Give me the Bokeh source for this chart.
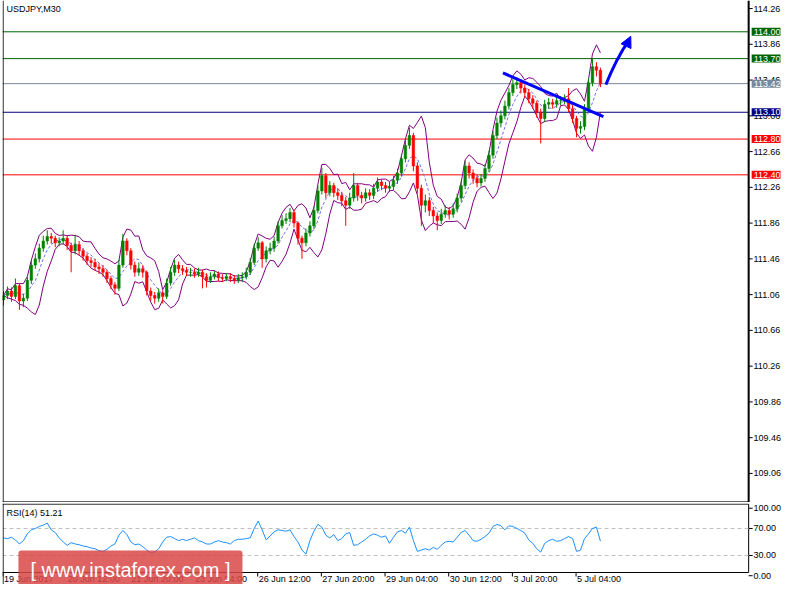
import numpy as np
import pandas as pd
from bokeh.plotting import figure
from bokeh.models import (ColumnDataSource, Range1d, FixedTicker, Span, Label,
                          Arrow, NormalHead, PrintfTickFormatter)
from bokeh.layouts import column
from bokeh.embed import file_html
from bokeh.resources import INLINE

# ---------------- data (USDJPY M30, one candle = 4 x M30 bars) ----------------
first_open = 111.00
close = [111.05,111.10,111.04,111.16,110.99,111.02,111.22,111.39,111.46,111.58,
         111.66,111.71,111.69,111.64,111.66,111.69,111.61,111.55,111.62,111.55,
         111.49,111.44,111.42,111.37,111.35,111.31,111.24,111.17,111.13,111.39,
         111.66,111.55,111.39,111.31,111.35,111.31,111.10,111.05,111.02,111.08,
         111.04,111.19,111.31,111.39,111.35,111.33,111.31,111.31,111.29,111.31,
         111.26,111.22,111.26,111.29,111.25,111.24,111.26,111.24,111.22,111.25,
         111.26,111.31,111.42,111.58,111.64,111.46,111.55,111.58,111.66,111.83,
         111.89,111.91,111.98,111.86,111.69,111.64,111.75,111.83,112.00,112.22,
         112.39,112.20,112.28,112.20,112.17,112.11,112.06,112.14,112.28,112.17,
         112.14,112.20,112.17,112.25,112.32,112.28,112.25,112.27,112.34,112.42,
         112.58,112.73,112.84,112.50,112.25,112.06,112.11,112.00,111.94,111.89,
         111.96,112.00,111.96,112.02,112.14,112.28,112.50,112.42,112.36,112.31,
         112.36,112.47,112.62,112.84,112.98,113.06,113.17,113.32,113.41,113.43,
         113.37,113.32,113.25,113.20,113.10,113.03,113.19,113.21,113.19,113.23,
         113.23,113.25,113.14,113.03,112.92,112.94,113.14,113.43,113.61,113.57,
         113.42]
high = [111.10,111.15,111.14,111.24,111.19,111.07,111.26,111.44,111.52,111.63,
        111.72,111.78,111.75,111.72,111.70,111.78,111.72,111.64,111.73,111.66,
        111.58,111.52,111.48,111.46,111.41,111.39,111.34,111.27,111.20,111.45,
        111.74,111.69,111.58,111.43,111.42,111.39,111.33,111.14,111.09,111.13,
        111.11,111.24,111.37,111.45,111.43,111.39,111.37,111.36,111.35,111.36,
        111.34,111.30,111.31,111.33,111.32,111.29,111.30,111.30,111.28,111.29,
        111.31,111.36,111.47,111.63,111.70,111.66,111.60,111.64,111.71,111.88,
        111.95,111.97,112.03,112.01,111.88,111.72,111.80,111.88,112.05,112.28,
        112.48,112.42,112.33,112.31,112.25,112.21,112.15,112.20,112.42,112.31,
        112.21,112.25,112.24,112.30,112.37,112.35,112.32,112.32,112.39,112.47,
        112.63,112.79,112.93,112.87,112.54,112.29,112.18,112.15,112.04,111.98,
        112.02,112.06,112.04,112.08,112.19,112.33,112.56,112.54,112.46,112.40,
        112.41,112.52,112.67,112.89,113.04,113.12,113.23,113.37,113.47,113.49,
        113.47,113.41,113.36,113.29,113.23,113.14,113.24,113.26,113.25,113.28,
        113.28,113.30,113.37,113.18,113.06,113.00,113.19,113.48,113.70,113.66,
        113.60]
low = [110.94,111.01,110.98,111.01,110.89,110.92,110.99,111.18,111.35,111.42,
       111.54,111.62,111.63,111.59,111.60,111.62,111.56,111.31,111.51,111.50,
       111.44,111.39,111.37,111.33,111.29,111.26,111.19,111.12,111.06,111.10,
       111.36,111.50,111.34,111.26,111.27,111.25,111.05,110.99,110.96,110.98,
       110.96,111.01,111.16,111.27,111.30,111.28,111.27,111.26,111.25,111.26,
       111.13,111.14,111.19,111.23,111.21,111.20,111.21,111.20,111.18,111.19,
       111.20,111.23,111.28,111.39,111.55,111.36,111.42,111.51,111.54,111.63,
       111.80,111.85,111.87,111.81,111.62,111.46,111.60,111.71,111.79,111.97,
       112.18,112.14,112.16,112.15,112.12,112.05,111.83,112.02,112.10,112.11,
       112.08,112.10,112.12,112.13,112.21,112.23,112.20,112.21,112.23,112.30,
       112.38,112.54,112.69,112.44,112.19,111.83,111.98,111.94,111.86,111.78,
       111.85,111.92,111.90,111.92,111.98,112.10,112.24,112.36,112.30,112.26,
       112.27,112.32,112.43,112.58,112.80,112.93,113.02,113.13,113.28,113.36,
       113.31,113.26,113.20,113.14,113.04,112.75,112.99,113.14,113.14,113.15,
       113.18,113.19,113.10,112.98,112.82,112.86,112.90,113.10,113.39,113.50,
       113.38]
rsi = [56,55,57,53,47,52,62,68,70,73,
       75,78,68,64,56,50,45,49,47,46,
       44,43,41,40,37,36,39,44,47,60,
       67,61,50,46,47,43,38,34,35,40,
       50,57,58,55,52,54,52,54,56,52,
       50,47,47,50,52,50,49,47,52,54,
       54,55,56,70,81,68,53,59,65,68,
       67,66,68,58,50,38,32,52,66,76,
       72,60,56,61,52,55,62,64,45,46,
       50,54,59,62,60,57,59,48,57,65,
       67,63,72,52,36,38,40,38,42,39,
       45,50,51,50,57,64,67,60,52,51,
       54,58,63,73,76,74,68,74,73,70,
       67,63,53,48,40,35,48,52,54,51,
       52,55,58,55,36,38,55,62,70,72,
       51.21]

levels = [114.00, 113.70, 113.42, 113.10, 112.80, 112.40]
level_colors = ["#006400", "#006400", "#778899", "#000080", "#ff0000", "#ff0000"]
price_ticks = [109.06, 109.46, 109.86, 110.26, 110.66, 111.06, 111.46, 111.86,
               112.26, 112.66, 113.06, 113.46, 113.86, 114.26]
rsi_ticks = [0, 30, 70, 100]
rsi_levels = [30, 70]
time_labels = ["19 Jun 2017", "20 Jun 12:00", "21 Jun 20:00", "23 Jun 04:00",
               "26 Jun 12:00", "27 Jun 20:00", "29 Jun 04:00", "30 Jun 12:00",
               "3 Jul 20:00", "5 Jul 04:00"]
time_tick_bars = [0, 64, 128, 192, 256, 320, 384, 448, 512, 576]
trend_bars = [502.5, 603.5]
trend_prices = [113.54, 113.05]
arrow_bars = [606, 611, 617, 623, 628, 631]
arrow_prices = [113.41, 113.54, 113.68, 113.80, 113.88, 113.95]
BARS_PER_CANDLE = 4
BB_PERIOD = 5
BB_DEV = 2

FONT = "Liberation Sans"
FS = "9px"

# ---------------- derived ----------------
n = len(close)
x = np.arange(n) * BARS_PER_CANDLE + 0.5
opn = [first_open] + close[:-1]
inc = [c >= o for o, c in zip(opn, close)]
col = ["#008000" if u else "#ff0000" for u in inc]
src = ColumnDataSource(dict(x=x, o=opn, c=close, h=high, l=low,
                            top=[max(a, b) for a, b in zip(opn, close)],
                            bot=[min(a, b) for a, b in zip(opn, close)],
                            col=col, rsi=rsi))
s = pd.Series(close)
ma = s.rolling(BB_PERIOD, min_periods=1).mean()
sd = s.rolling(BB_PERIOD, min_periods=1).std(ddof=0).fillna(0)
up = ma + BB_DEV * sd
dn = ma - BB_DEV * sd

# layout geometry (1 bar = 1 px)
X0, X1 = -0.5, 781.5          # frame covers the whole width incl. price scale
XA = 749.5                    # position of the price scale line
Y1 = 114.35
MAIN_H = 502
PX_PER_PRICE = 89.4
Y0 = Y1 - MAIN_H / PX_PER_PRICE
RSI_H = 82                    # 1px gap + 81px frame
R_K = 0.675                   # px per RSI unit
R_TOP = 107.0
R_BOT = R_TOP - (RSI_H - 1) / R_K
R_BORDER = R_TOP - 69 / R_K   # bottom line of the RSI window

# ---------------- main pane ----------------
p = figure(width=784, height=MAIN_H, x_range=Range1d(X0, X1), y_range=Range1d(Y0, Y1),
           output_backend="svg", toolbar_location=None, x_axis_location=None,
           y_axis_location="right", min_border_left=2, min_border_right=0,
           min_border_top=0, min_border_bottom=0)
p.outline_line_color = None
p.grid.visible = False
p.background_fill_color = "white"
p.border_fill_color = "white"

ya = p.yaxis[0]
ya.ticker = FixedTicker(ticks=price_ticks)
ya.formatter = PrintfTickFormatter(format="%.2f")
ya.axis_line_color = None
ya.major_tick_out = 0
ya.major_tick_in = 0
ya.minor_tick_line_color = None
ya.major_label_text_font = FONT
ya.major_label_text_font_size = FS
ya.major_label_text_color = "black"
ya.major_label_standoff = -27

# level lines
p.segment(x0=[X0] * len(levels), x1=[XA] * len(levels), y0=levels, y1=levels,
          line_color=level_colors, line_width=1)

# bands
p.line(x, up, line_color="#800080", line_width=1)
p.line(x, dn, line_color="#800080", line_width=1)
p.line(x, ma, line_color="#7070ee", line_width=1, line_dash="3 2")

# candles
p.segment(x0="x", y0="l", x1="x", y1="h", source=src, line_color="col", line_width=1)
p.vbar(x="x", top="top", bottom="bot", width=2.6, source=src, fill_color="col",
       line_color="col", line_width=0.5)

# trend line and arrow
p.line(trend_bars, trend_prices, line_color="#0000ff", line_width=3)
p.line(arrow_bars[:-1], arrow_prices[:-1], line_color="#0000ff", line_width=3)
p.add_layout(Arrow(end=NormalHead(size=11, fill_color="#0000ff", line_color="#0000ff"),
                   x_start=arrow_bars[-2], y_start=arrow_prices[-2],
                   x_end=arrow_bars[-1], y_end=arrow_prices[-1],
                   line_color="#0000ff", line_width=3))

# frame / scale lines
p.add_layout(Span(location=X0 + 0.6, dimension="height", line_color="black", line_width=1))
p.segment(x0=[X0], x1=[XA], y0=[Y0 + 0.6 / PX_PER_PRICE], y1=[Y0 + 0.6 / PX_PER_PRICE],
          line_color="black", line_width=1)
p.segment(x0=[XA], x1=[XA], y0=[Y0], y1=[Y1], line_color="black", line_width=2)
p.segment(x0=[XA] * len(price_ticks), x1=[XA + 4] * len(price_ticks),
          y0=price_ticks, y1=price_ticks, line_color="black", line_width=1)

# level labels on the price scale
for lv, lc in zip(levels, level_colors):
    p.add_layout(Label(x=XA, y=lv, x_offset=3, text=f"{lv:.2f}", text_color="white",
                       text_font=FONT, text_font_size=FS, text_baseline="middle",
                       text_align="left", background_fill_color=lc,
                       padding=dict(left=2, right=2, top=1, bottom=1)))

p.add_layout(Label(x=X0, y=Y1, x_offset=4, y_offset=-3, text="USDJPY,M30",
                   text_font=FONT, text_font_size=FS, text_color="black",
                   text_baseline="top"))

# ---------------- RSI pane ----------------
r = figure(width=784, height=RSI_H, x_range=p.x_range, y_range=Range1d(R_BOT, R_TOP),
           output_backend="svg", toolbar_location=None, x_axis_location=None,
           y_axis_location="right", min_border_left=2, min_border_right=0,
           min_border_top=1, min_border_bottom=0)
r.outline_line_color = None
r.grid.visible = False
ry = r.yaxis[0]
ry.ticker = FixedTicker(ticks=rsi_ticks)
ry.formatter = PrintfTickFormatter(format="%.2f")
ry.axis_line_color = None
ry.major_tick_out = 0
ry.major_tick_in = 0
ry.minor_tick_line_color = None
ry.major_label_text_font = FONT
ry.major_label_text_font_size = FS
ry.major_label_text_color = "black"
ry.major_label_standoff = -27

top_b = R_TOP - 0.6 / R_K
r.segment(x0=[X0, X0, XA], x1=[XA, XA, XA], y0=[top_b, R_BORDER, R_BORDER],
          y1=[top_b, R_BORDER, top_b], line_color="black", line_width=1)
r.add_layout(Span(location=X0 + 0.6, dimension="height", line_color="black", line_width=1))
r.segment(x0=[XA] * len(rsi_ticks), x1=[XA + 4] * len(rsi_ticks), y0=rsi_ticks,
          y1=rsi_ticks, line_color="black", line_width=1)

for lv in rsi_levels:
    r.segment(x0=[X0], x1=[XA], y0=[lv], y1=[lv], line_color="#c0c0c0",
              line_width=1, line_dash="4 3")
r.line("x", "rsi", source=src, line_color="#1e90ff", line_width=1)

r.add_layout(Label(x=X0, y=top_b, x_offset=4, y_offset=-4, text=f"RSI(14) {rsi[-1]:.2f}",
                   text_font=FONT, text_font_size=FS, text_color="black",
                   text_baseline="top"))

# time scale: tick marks and labels
r.segment(x0=time_tick_bars, x1=time_tick_bars, y0=[R_BORDER] * len(time_tick_bars),
          y1=[R_BORDER - 4 / R_K] * len(time_tick_bars), line_color="black", line_width=1)
for tb, tl in zip(time_tick_bars, time_labels):
    r.add_layout(Label(x=tb, y=R_BORDER, x_offset=1, y_offset=-1, text=tl, text_font=FONT,
                       text_font_size=FS, text_color="black", text_baseline="top",
                       text_align="left"))

r.add_layout(Label(x=15.5, y=R_BORDER, y_offset=-16, text="[ www.instaforex.com ]",
                   text_font=FONT, text_font_size="20px", text_color="white",
                   text_baseline="bottom", text_align="left",
                   background_fill_color="#d94848", background_fill_alpha=0.85,
                   padding=dict(left=12, right=12, top=8, bottom=8),
                   border_radius=3))

layout = column(p, r, spacing=0)
open("out.html", "w").write(file_html(layout, INLINE))
